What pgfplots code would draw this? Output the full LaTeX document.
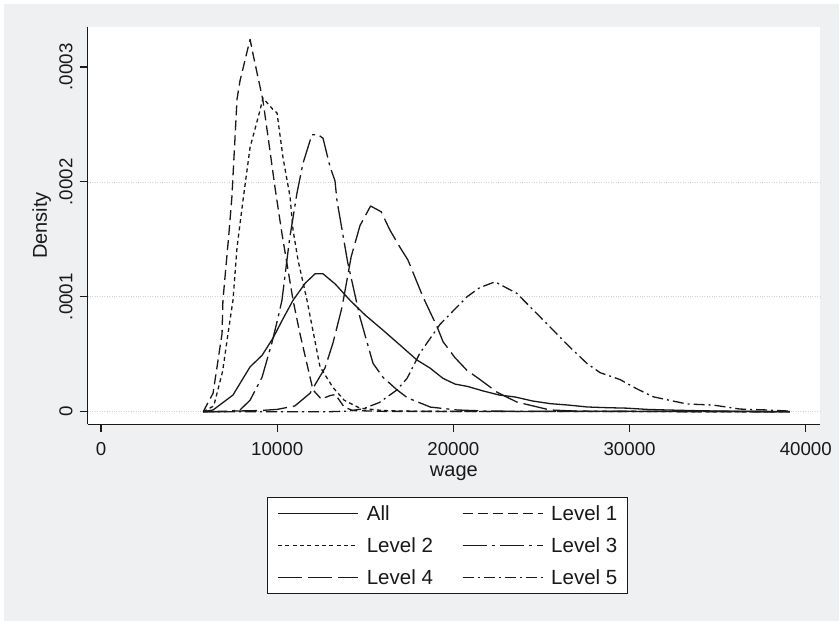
\documentclass[border=0pt]{standalone}
\usepackage{pgfplots}
\pgfplotsset{compat=1.18}
\usepackage{fontspec}
\setmainfont{Liberation Sans}
\definecolor{bggray}{RGB}{239,240,242}
\definecolor{ink}{RGB}{25,25,25}
\begin{document}
\begin{tikzpicture}
\useasboundingbox (0pt,0pt) rectangle (839pt,621pt);
\fill[white] (0pt,0pt) rectangle (839pt,621pt);
\fill[bggray] (4pt,0pt) rectangle (839pt,617pt);
\begin{axis}[
  at={(101pt,209.3pt)}, anchor=origin,
  width=732.3pt, height=397.6pt, scale only axis,
  xmin=-755, xmax=40806, ymin=-0.0000110, ymax=0.000335,
  axis lines*=left,
  axis line style={ink, line width=1.1pt},
  axis background/.style={fill=white},
  tick align=outside, major tick length=8pt,
  every tick/.style={ink, line width=1.1pt},
  scaled x ticks=false, scaled y ticks=false,
  xtick={0,10000,20000,30000,40000},
  xticklabels={\mbox{0},\mbox{10000},\mbox{20000},\mbox{30000},\mbox{40000}},
  ytick={0,0.0001,0.0002,0.0003},
  yticklabels={\mbox{0},\mbox{.0001},\mbox{.0002},\mbox{.0003}},
  extra y ticks={0,0.0001,0.0002},
  extra y tick labels={},
  extra y tick style={major tick length=0pt, ymajorgrids=true},
  major grid style={black!18, dotted, line width=0.7pt},
  ticklabel style={font=\fontsize{18.7}{22}\selectfont, text=ink},
  yticklabel style={rotate=90, anchor=south, inner sep=0pt},
  yticklabel shift=7pt,
  xticklabel style={anchor=north, inner sep=0pt},
  xticklabel shift=10pt,
  xlabel={wage}, ylabel={Density},
  label style={font=\fontsize{20}{22}\selectfont, text=ink},
  x label style={at={(axis description cs:0.5,-0.130)}, anchor=base},
  y label style={at={(axis description cs:-0.0556,0.5)}, anchor=base},
  legend columns=2,
  legend cell align=left,
  legend image code/.code={\draw[#1] (0pt,0pt) -- (80pt,0pt);},
  legend style={
    at={(axis description cs:0.2449,-0.1829)}, anchor=north west,
    draw=ink, line width=1pt, fill=white,
    inner xsep=10pt, inner ysep=9pt,
    font=\fontsize{20.5}{22}\selectfont,
    row sep=18pt,
    /tikz/every odd column/.append style={column sep=8pt},
    /tikz/every even column/.append style={column sep=29pt},
    nodes={inner sep=0pt, text height=14pt, text depth=0pt, text=ink},
  },
  every axis plot/.append style={ink, line width=1.3pt, line join=round},
]
% All
\addplot[solid] coordinates {
(5800,0) (6360,0.0000015) (7490,0.0000145) (8460,0.000039) (9140,0.000049)
(9760,0.000064) (10300,0.000080) (10900,0.000097) (11600,0.000112)
(12150,0.000120) (12600,0.000120) (13300,0.000111) (14130,0.000097)
(15000,0.000084) (16000,0.000071) (16970,0.000058) (17930,0.000045)
(18670,0.000038) (19410,0.000029) (20100,0.000024) (20800,0.000022)
(21700,0.000018) (22600,0.0000145) (23500,0.0000128) (24500,0.0000093)
(25500,0.000007) (26500,0.0000058) (27600,0.0000041) (28700,0.0000035)
(29800,0.0000031) (31000,0.000002) (32100,0.0000015) (34000,0.0000008)
(36000,0.0000004) (39100,0.0000001)
};
\addlegendentry{All}
% Level 1
\addplot[dash pattern=on 10pt off 5pt] coordinates {
(5800,0) (6360,0.000016) (6870,0.000068) (6920,0.000097) (7260,0.000155)
(7430,0.000187) (7720,0.000272) (7890,0.000288) (8460,0.000324)
(8630,0.000311) (9190,0.000271) (9590,0.000227) (9875,0.000195)
(10270,0.000155) (10900,0.000097) (11290,0.000068) (12030,0.000019)
(12500,0.000011) (13000,0.000014) (13300,0.000015) (13800,0.000004)
(14300,0.000001) (16000,0.0000003) (39100,0)
};
\addlegendentry{Level 1}
% Level 2
\addplot[dash pattern=on 4pt off 3.3pt] coordinates {
(5800,0) (6400,0.000005) (6900,0.000035) (7210,0.000068) (7490,0.000097)
(7720,0.000143) (8060,0.000184) (8460,0.00023) (9020,0.000262)
(9190,0.000273) (9760,0.000263) (9990,0.00026) (10330,0.000221)
(10730,0.000187) (10900,0.000158) (11180,0.000132) (11690,0.000097)
(12430,0.000039) (13170,0.000021) (13800,0.00001) (14700,0.000003)
(16000,0.000001) (18000,0.0000003) (39100,0)
};
\addlegendentry{Level 2}
% Level 3
\addplot[dash pattern=on 24pt off 5pt on 3pt off 5pt] coordinates {
(5800,0) (7000,0) (7890,0.0000015) (8460,0.00001) (9140,0.00003)
(9700,0.00006) (10050,0.000082) (10270,0.000097) (10700,0.00015)
(11120,0.00019) (11460,0.000216) (11970,0.000241) (12320,0.000241)
(12600,0.000238) (13000,0.000213) (13280,0.000201) (13390,0.000184)
(14000,0.00013) (14700,0.000082) (15440,0.000042) (16000,0.00003)
(16800,0.000019) (17400,0.000012) (18700,0.000004) (20200,0.0000015)
(22000,0.0000005) (39100,0)
};
\addlegendentry{Level 3}
% Level 4
\addplot[dash pattern=on 24pt off 6pt] coordinates {
(5800,0) (9000,0.000001) (10000,0.000002) (11000,0.000005) (11860,0.000016)
(12710,0.000038) (13170,0.00006) (13680,0.000091) (14200,0.000135)
(14700,0.000162) (15300,0.000179) (15900,0.000174) (16400,0.000158)
(16970,0.000143) (17420,0.000132) (18270,0.0001) (19070,0.000074)
(19410,0.000061) (20090,0.000047) (20770,0.000036) (21510,0.000028)
(22470,0.000017) (23600,0.0000084) (25480,0.0000015) (27000,0.0000005)
(39100,0)
};
\addlegendentry{Level 4}
% Level 5
\addplot[dash pattern=on 11pt off 4pt on 2pt off 4pt] coordinates {
(5800,0) (13000,0) (14000,0.0000005) (14870,0.0000025) (15800,0.000008)
(16800,0.000019) (17370,0.000029) (18100,0.000051) (19240,0.000076)
(20770,0.0001) (21500,0.000108) (22360,0.000113) (23600,0.000103)
(25080,0.00008) (26620,0.000056) (27580,0.000042) (28320,0.000034)
(29450,0.000028) (30400,0.00002) (31330,0.000013) (33260,0.0000067)
(34730,0.0000058) (36260,0.0000023) (37800,0.0000015) (39100,0.0000005)
};
\addlegendentry{Level 5}
\end{axis}
\end{tikzpicture}
\end{document}
